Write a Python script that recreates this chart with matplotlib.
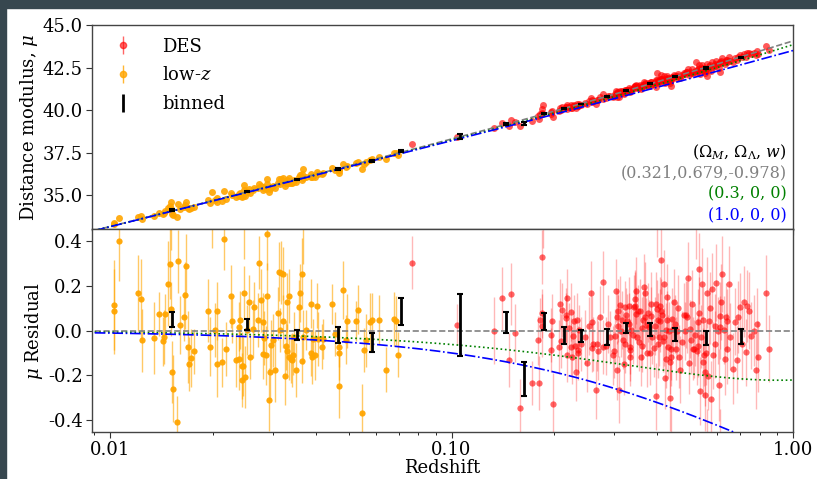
import numpy as np
import matplotlib
matplotlib.use("Agg")
import matplotlib.pyplot as plt
from matplotlib.ticker import FixedLocator, FormatStrFormatter, LogLocator, NullFormatter
from matplotlib.patches import Rectangle

plt.rcParams['font.family'] = ['DejaVu Serif']
plt.rcParams['mathtext.fontset'] = 'dejavuserif'

# ---------------- data ----------------
lowz_z = [0.0103, 0.0103, 0.0106, 0.0121, 0.0123, 0.0124, 0.0134, 0.0139, 0.0143, 0.0144, 0.0145,
          0.0148, 0.0150, 0.0151, 0.0152, 0.0153, 0.0158, 0.0157, 0.0160, 0.0165, 0.0166, 0.0167,
          0.0169, 0.0170, 0.0172, 0.0176, 0.0193, 0.0196, 0.0203, 0.0205, 0.0206, 0.0213, 0.0216,
          0.0219, 0.0226, 0.0227, 0.0233, 0.0238, 0.0239, 0.0240, 0.0243, 0.0244, 0.0245, 0.0246,
          0.0248, 0.0252, 0.0255, 0.0256, 0.0262, 0.0264, 0.0272, 0.0273, 0.0277, 0.0280, 0.0280,
          0.0282, 0.0286, 0.0289, 0.0289, 0.0291, 0.0294, 0.0296, 0.0300, 0.0305, 0.0310, 0.0312,
          0.0314, 0.0317, 0.0320, 0.0321, 0.0325, 0.0327, 0.0329, 0.0330, 0.0333, 0.0335, 0.0338,
          0.0340, 0.0344, 0.0346, 0.0350, 0.0357, 0.0361, 0.0365, 0.0365, 0.0367, 0.0374, 0.0388,
          0.0388, 0.0391, 0.0393, 0.0397, 0.0403, 0.0406, 0.0417, 0.0420, 0.0446, 0.0457, 0.0467,
          0.0467, 0.0468, 0.0482, 0.0491, 0.0493, 0.0525, 0.0531, 0.0546, 0.0553, 0.0562, 0.0578,
          0.0586, 0.0614, 0.0642, 0.0680, 0.0688, 0.0698, 0.0151, 0.0199, 0.0366, 0.0246]
lowz_res = [0.115, 0.086, 0.40, 0.167, 0.141, -0.044, -0.033, 0.074, -0.047, -0.027, 0.074,
            0.21, 0.30, 0.096, -0.185, -0.26, 0.31, -0.41, 0.027, 0.062, 0.158, 0.29,
            -0.074, -0.148, -0.121, -0.092, 0.089, -0.071, 0.003, -0.148, 0.089, -0.141, 0.41,
            -0.081, 0.153, 0.044, -0.133, -0.126, 0.018, 0.047, -0.222, -0.156, -0.16, 0.17,
            -0.207, 0.003, 0.129, -0.116, 0.007, 0.107, 0.047, 0.304, 0.136, 0.037, -0.104,
            -0.033, -0.111, 0.43, 0.153, -0.308, -0.185, -0.062, -0.044, -0.178, 0.077, 0.264,
            0.003, 0.259, 0.041, 0.255, -0.204, -0.067, -0.092, 0.126, -0.119, 0.156, -0.126,
            -0.13, -0.107, -0.027, -0.175, 0.107, 0.17, 0.255, -0.136, -0.027, 0.004, 0.121,
            -0.101, -0.119, -0.037, -0.111, 0.111, -0.037, -0.071, -0.037, 0.119, -0.015, -0.074,
            -0.101, -0.249, 0.181, -0.041, 0.044, 0.044, 0.093, -0.367, -0.086, -0.044, 0.037,
            0.047, 0.049, -0.175, 0.052, 0.044, -0.107, 0.56, 0.52, 0.50, 0.47]
lowz_err = [0.20, 0.19, 0.18, 0.17, 0.18, 0.14, 0.16, 0.10, 0.11, 0.12, 0.09,
            0.19, 0.16, 0.12, 0.14, 0.15, 0.14, 0.12, 0.13, 0.11, 0.15, 0.14,
            0.16, 0.12, 0.13, 0.10, 0.14, 0.13, 0.12, 0.15, 0.13, 0.11, 0.14,
            0.12, 0.14, 0.10, 0.12, 0.14, 0.11, 0.13, 0.12, 0.15, 0.13, 0.12,
            0.14, 0.11, 0.12, 0.10, 0.13, 0.11, 0.12, 0.12, 0.14, 0.13, 0.11,
            0.12, 0.13, 0.16, 0.15, 0.14, 0.12, 0.11, 0.12, 0.14, 0.12, 0.13,
            0.10, 0.14, 0.12, 0.12, 0.13, 0.11, 0.12, 0.13, 0.10, 0.12, 0.11,
            0.12, 0.09, 0.11, 0.12, 0.12, 0.13, 0.16, 0.10, 0.12, 0.09, 0.11,
            0.10, 0.12, 0.09, 0.11, 0.10, 0.12, 0.10, 0.09, 0.09, 0.10, 0.09,
            0.12, 0.14, 0.13, 0.11, 0.12, 0.09, 0.11, 0.13, 0.10, 0.12, 0.13,
            0.12, 0.11, 0.10, 0.12, 0.11, 0.10, 0.20, 0.15, 0.20, 0.15]

des_z = [0.0767, 0.1037, 0.1331, 0.1408, 0.1472, 0.1496, 0.1539, 0.1586, 0.1721, 0.1800, 0.1795,
         0.1814, 0.1841, 0.1845, 0.1845, 0.1951, 0.1951, 0.1973, 0.1982, 0.2063, 0.2072, 0.2110,
         0.2160, 0.2170, 0.2180, 0.2185, 0.2210, 0.2231, 0.2246, 0.2262, 0.2283, 0.2304, 0.2315,
         0.2325, 0.2341, 0.2352, 0.2368, 0.2463, 0.2491, 0.2557, 0.2580, 0.2586, 0.2597, 0.2644,
         0.2675, 0.2687, 0.2768, 0.2781, 0.2825, 0.2911, 0.2965, 0.3012, 0.3033, 0.3047, 0.3061,
         0.3082, 0.3096, 0.3117, 0.3132, 0.3153, 0.3189, 0.3211, 0.3226, 0.3262, 0.3299, 0.3322,
         0.3327, 0.3342, 0.3365, 0.3418, 0.3441, 0.3465, 0.3480, 0.3496, 0.3519, 0.3559, 0.3583,
         0.3624, 0.3640, 0.3664, 0.3681, 0.3705, 0.3764, 0.3789, 0.3806, 0.3849, 0.3874, 0.3909,
         0.3961, 0.3979, 0.4006, 0.4033, 0.4051, 0.4069, 0.4087, 0.4114, 0.4133, 0.4167, 0.4195,
         0.4214, 0.4242, 0.4261, 0.4289, 0.4308, 0.4337, 0.4356, 0.4375, 0.4405, 0.4424, 0.4453,
         0.4483, 0.4533, 0.4574, 0.4635, 0.4676, 0.4781, 0.4813, 0.4867, 0.4921, 0.4955, 0.4999,
         0.5033, 0.5089, 0.5146, 0.5219, 0.5253, 0.5277, 0.5312, 0.5336, 0.5360, 0.5397, 0.5432,
         0.5482, 0.5518, 0.5530, 0.5580, 0.5605, 0.5643, 0.5680, 0.5770, 0.5808, 0.5834, 0.5899,
         0.5965, 0.6033, 0.6073, 0.6101, 0.6128, 0.6197, 0.6266, 0.6336, 0.6379, 0.6422, 0.6479,
         0.6535, 0.6683, 0.6835, 0.6913, 0.6991, 0.7180, 0.7277, 0.7309, 0.7510, 0.7679, 0.7783,
         0.7906, 0.8311, 0.8497, 0.185, 0.40, 0.52, 0.56, 0.61, 0.44,
         0.2095, 0.2240, 0.2395, 0.2520, 0.2720, 0.2870, 0.2990, 0.3075, 0.3170, 0.3245,
         0.3305, 0.3390, 0.3455, 0.3540, 0.3600, 0.3690, 0.3745, 0.3830, 0.3930, 0.4020,
         0.4100, 0.4180, 0.4280, 0.4390, 0.4500, 0.4600, 0.4720, 0.4900, 0.5060, 0.5180,
         0.5300, 0.5450, 0.5700, 0.5900, 0.6150, 0.6400, 0.6750, 0.7100, 0.7450, 0.7850]
des_res = [0.304, 0.027, 0.0, 0.145, -0.13, 0.163, -0.012, -0.344, -0.234, -0.234, -0.044,
           0.047, 0.33, 0.077, 0.022, -0.018, -0.086, 0.044, -0.329, -0.074, 0.119, 0.093,
           0.056, 0.071, 0.145, -0.111, 0.012, -0.074, -0.119, -0.022, 0.041, -0.067, -0.185,
           0.047, -0.086, -0.101, 0.003, -0.027, -0.145, 0.17, 0.037, -0.077, -0.059, -0.267,
           -0.059, -0.089, 0.218, -0.074, -0.067, -0.03, -0.111, -0.022, 0.178, -0.178, 0.062,
           0.089, -0.264, 0.116, 0.0, 0.047, -0.148, 0.104, -0.059, 0.044, 0.111, -0.074,
           -0.086, -0.116, 0.003, 0.107, 0.141, 0.074, 0.178, -0.03, 0.086, 0.089, -0.119,
           -0.067, 0.047, 0.193, 0.166, 0.027, 0.081, 0.018, -0.101, 0.067, -0.03, -0.077,
           -0.293, 0.121, 0.096, 0.047, -0.027, 0.044, 0.111, 0.314, 0.071, -0.047, 0.21,
           -0.21, -0.126, 0.003, 0.047, -0.071, 0.0, -0.141, -0.299, -0.116, 0.052, 0.007,
           0.126, -0.081, 0.0, -0.116, -0.175, 0.071, 0.0, 0.071, 0.237, -0.145, 0.007,
           -0.044, -0.081, -0.081, -0.092, -0.067, 0.037, 0.277, -0.27, -0.027, 0.21, 0.047,
           -0.107, -0.289, -0.185, -0.101, 0.17, -0.204, 0.044, -0.304, 0.185, -0.111, 0.022,
           0.215, 0.0, -0.244, 0.067, 0.015, 0.255, 0.003, -0.126, 0.062, 0.044, 0.21,
           -0.027, -0.17, -0.13, 0.062, 0.107, 0.13, -0.096, 0.111, -0.022, 0.0, -0.178,
           -0.116, 0.17, -0.081, 0.52, 0.50, 0.48, -0.50, -0.51, -0.49,
           -0.045, 0.085, -0.060, 0.020, 0.060, 0.030, -0.090, 0.020, -0.040, 0.070,
           0.030, -0.020, 0.110, -0.050, 0.010, 0.060, -0.100, 0.120, 0.020, -0.060,
           0.090, -0.030, 0.150, -0.080, 0.030, 0.100, -0.050, 0.060, 0.120, -0.020,
           0.080, -0.140, 0.100, -0.060, 0.130, -0.080, 0.040, -0.060, 0.090, 0.030]
des_err = [0.12, 0.09, 0.15, 0.14, 0.12, 0.14, 0.13, 0.13, 0.10, 0.12, 0.11,
           0.10, 0.12, 0.11, 0.14, 0.12, 0.10, 0.12, 0.14, 0.12, 0.11, 0.12,
           0.11, 0.12, 0.13, 0.12, 0.11, 0.13, 0.12, 0.11, 0.12, 0.11, 0.13,
           0.12, 0.10, 0.12, 0.11, 0.12, 0.13, 0.14, 0.12, 0.11, 0.12, 0.13,
           0.12, 0.13, 0.14, 0.12, 0.13, 0.12, 0.13, 0.12, 0.14, 0.13, 0.12,
           0.14, 0.15, 0.13, 0.12, 0.13, 0.14, 0.12, 0.13, 0.12, 0.13, 0.12,
           0.14, 0.13, 0.12, 0.14, 0.13, 0.12, 0.15, 0.13, 0.12, 0.14, 0.13,
           0.12, 0.13, 0.15, 0.14, 0.12, 0.13, 0.12, 0.14, 0.13, 0.12, 0.13,
           0.15, 0.14, 0.13, 0.12, 0.13, 0.14, 0.13, 0.15, 0.13, 0.14, 0.15,
           0.14, 0.13, 0.12, 0.13, 0.14, 0.13, 0.14, 0.15, 0.13, 0.14, 0.13,
           0.15, 0.14, 0.13, 0.14, 0.15, 0.14, 0.13, 0.15, 0.16, 0.14, 0.13,
           0.15, 0.14, 0.13, 0.15, 0.14, 0.15, 0.16, 0.15, 0.14, 0.16, 0.15,
           0.14, 0.16, 0.15, 0.14, 0.16, 0.15, 0.14, 0.17, 0.16, 0.15, 0.14,
           0.17, 0.15, 0.16, 0.15, 0.14, 0.17, 0.15, 0.16, 0.15, 0.14, 0.17,
           0.15, 0.16, 0.15, 0.16, 0.15, 0.16, 0.15, 0.16, 0.15, 0.16, 0.17,
           0.16, 0.17, 0.15, 0.15, 0.17, 0.16, 0.15, 0.16, 0.15,
           0.12, 0.13, 0.12, 0.13, 0.14, 0.13, 0.12, 0.14, 0.13, 0.12,
           0.14, 0.13, 0.15, 0.13, 0.14, 0.13, 0.15, 0.14, 0.13, 0.15,
           0.14, 0.13, 0.15, 0.14, 0.13, 0.15, 0.14, 0.16, 0.15, 0.14,
           0.16, 0.15, 0.16, 0.15, 0.17, 0.16, 0.15, 0.16, 0.17, 0.16]

bin_z = [0.0152, 0.0252, 0.0353, 0.0466, 0.0584, 0.0712, 0.1056, 0.144, 0.1626, 0.187,
         0.214, 0.240, 0.2855, 0.3238, 0.3815, 0.4508, 0.5546, 0.7055]
bin_res = [0.049, 0.028, -0.019, -0.021, -0.053, 0.086, 0.024, 0.036, -0.216, 0.040,
           -0.022, -0.024, -0.027, 0.012, 0.004, -0.018, -0.031, -0.026]
bin_err = [0.033, 0.024, 0.024, 0.036, 0.043, 0.062, 0.138, 0.046, 0.078, 0.037,
           0.037, 0.028, 0.035, 0.021, 0.030, 0.029, 0.031, 0.033]

cosmologies = [(0.321, 0.679, -0.978), (0.3, 0.0, 0.0), (1.0, 0.0, 0.0)]
cosmo_labels = ['(0.321,0.679,-0.978)', '(0.3, 0, 0)', '(1.0, 0, 0)']
cosmo_colors = ['gray', 'green', 'blue']
cosmo_styles = ['--', ':', '-.']

H0 = 70.0
C_KMS = 299792.458


def dist_mod(z, om, ol, w):
    zz = np.linspace(0.0, 1.2, 24001)
    ok = 1.0 - om - ol
    E = np.sqrt(om * (1 + zz) ** 3 + ok * (1 + zz) ** 2 + ol * (1 + zz) ** (3 * (1 + w)))
    inv = 1.0 / E
    chi = np.concatenate([[0.0], np.cumsum(0.5 * (inv[1:] + inv[:-1]) * np.diff(zz))])
    chi_z = np.interp(z, zz, chi)
    if ok > 1e-8:
        dm = np.sinh(np.sqrt(ok) * chi_z) / np.sqrt(ok)
    elif ok < -1e-8:
        dm = np.sin(np.sqrt(-ok) * chi_z) / np.sqrt(-ok)
    else:
        dm = chi_z
    dl = (1 + np.asarray(z)) * dm * C_KMS / H0
    return 5 * np.log10(dl) + 25


ref = cosmologies[0]
lowz_z = np.array(lowz_z); lowz_res = np.array(lowz_res); lowz_err = np.array(lowz_err)
des_z = np.array(des_z); des_res = np.array(des_res); des_err = np.array(des_err)
bin_z = np.array(bin_z); bin_res = np.array(bin_res); bin_err = np.array(bin_err)

lowz_mu = dist_mod(lowz_z, *ref) + lowz_res
des_mu = dist_mod(des_z, *ref) + des_res
bin_mu = dist_mod(bin_z, *ref) + bin_res

# ---------------- figure ----------------
fig = plt.figure(figsize=(8.17, 4.79), dpi=100)
fig.patch.set_facecolor('white')
fig.patches.append(Rectangle((0, 1 - 8 / 479), 1, 8 / 479, transform=fig.transFigure,
                             color='#37474f', zorder=0))
fig.patches.append(Rectangle((0, 0), 6 / 817, 1, transform=fig.transFigure,
                             color='#37474f', zorder=0))

L, R = 92 / 817, 793 / 817
top_b, top_t = 1 - 229.5 / 479, 1 - 25 / 479
bot_b = 1 - 432 / 479
ax1 = fig.add_axes([L, top_b, R - L, top_t - top_b])
ax2 = fig.add_axes([L, bot_b, R - L, top_b - bot_b], sharex=ax1)

zgrid = np.logspace(np.log10(0.008), 0.0, 400)
mu_ref = dist_mod(zgrid, *ref)

red_c = (1.0, 0.0, 0.0)
org_c = '#ffa500'

# top panel
ax1.plot(lowz_z, lowz_mu, 'o', color=org_c, ms=5, alpha=0.9, mec='none', zorder=2)
ax1.plot(des_z, des_mu, 'o', color=red_c, ms=5, alpha=0.65, mec='none', zorder=2)
ax1.errorbar(bin_z, bin_mu, yerr=bin_err, fmt='none', ecolor='k', elinewidth=2,
             capsize=2.5, capthick=1.5, zorder=4)
for (om, ol, w), col, ls in zip(cosmologies, cosmo_colors, cosmo_styles):
    ax1.plot(zgrid, dist_mod(zgrid, om, ol, w), ls=ls, color=col, lw=1.2, zorder=3)

# legend handles
h_des = ax1.errorbar([], [], yerr=[], fmt='o', color=red_c, ms=4.5, alpha=0.6, elinewidth=1)
h_low = ax1.errorbar([], [], yerr=[], fmt='o', color=org_c, ms=4.5, alpha=0.8, elinewidth=1)
h_bin = ax1.errorbar([], [], yerr=[], fmt='none', ecolor='k', elinewidth=2, capsize=2.5)
ax1.legend([h_des, h_low, h_bin], ['DES', 'low-$z$', 'binned'], loc='upper left',
           frameon=False, fontsize=13, borderaxespad=0.3, handletextpad=1.2,
           labelspacing=0.6, bbox_to_anchor=(0.0, 1.0))

ax1.text(0.991, 0.379, r'($\Omega_M$, $\Omega_\Lambda$, $w$)', transform=ax1.transAxes,
         ha='right', va='center', fontsize=11.5, color='black')
for i, (lab, col) in enumerate(zip(cosmo_labels, cosmo_colors)):
    ax1.text(0.991, 0.276 - 0.102 * i, lab, transform=ax1.transAxes, ha='right',
             va='center', fontsize=11.5, color=col)

ax1.set_ylim(33.0, 45.0)
ax1.yaxis.set_major_locator(FixedLocator([35.0, 37.5, 40.0, 42.5, 45.0]))
ax1.yaxis.set_major_formatter(FormatStrFormatter('%.1f'))
ax1.set_ylabel(r'Distance modulus, $\mu$', fontsize=13, labelpad=2)
plt.setp(ax1.get_xticklabels(), visible=False)

# bottom panel
eb1 = ax2.errorbar(lowz_z, lowz_res, yerr=lowz_err, fmt='o', color=org_c, ms=4.5,
                   mec='none', elinewidth=1, zorder=2)
eb1[2][0].set_alpha(0.6)
eb1[0].set_alpha(0.95)
eb2 = ax2.errorbar(des_z, des_res, yerr=des_err, fmt='o', color=red_c, ms=4.5,
                   mec='none', elinewidth=1, zorder=2)
eb2[2][0].set_alpha(0.28)
eb2[0].set_alpha(0.6)
for (om, ol, w), col, ls in zip(cosmologies, cosmo_colors, cosmo_styles):
    ax2.plot(zgrid, dist_mod(zgrid, om, ol, w) - mu_ref, ls=ls, color=col, lw=1.2, zorder=3)
ax2.errorbar(bin_z, bin_res, yerr=bin_err, fmt='none', ecolor='k', elinewidth=2,
             capsize=2.5, capthick=1.5, zorder=4)

ax2.set_xscale('log')
ax2.set_xlim(0.00885, 1.0)
ax2.set_ylim(-0.453, 0.452)
ax2.xaxis.set_major_locator(FixedLocator([0.01, 0.1, 1.0]))
ax2.xaxis.set_major_formatter(FormatStrFormatter('%.2f'))
ax2.xaxis.set_minor_locator(LogLocator(base=10, subs=np.arange(2, 10)))
ax2.xaxis.set_minor_formatter(NullFormatter())
ax2.yaxis.set_major_locator(FixedLocator([-0.4, -0.2, 0.0, 0.2, 0.4]))
ax2.yaxis.set_major_formatter(FormatStrFormatter('%.1f'))
ax2.set_xlabel('Redshift', fontsize=13, labelpad=0)
ax2.set_ylabel(r'$\mu$ Residual', fontsize=13, labelpad=2)

for ax in (ax1, ax2):
    ax.tick_params(labelsize=13, direction='out', length=4, color='#333333', pad=2.5)
    ax.tick_params(which='minor', length=2.5)
    for s in ax.spines.values():
        s.set_color('#444444')
        s.set_linewidth(1.0)

fig.align_ylabels([ax1, ax2])
fig.savefig('out.png', dpi=100, facecolor=fig.get_facecolor())
